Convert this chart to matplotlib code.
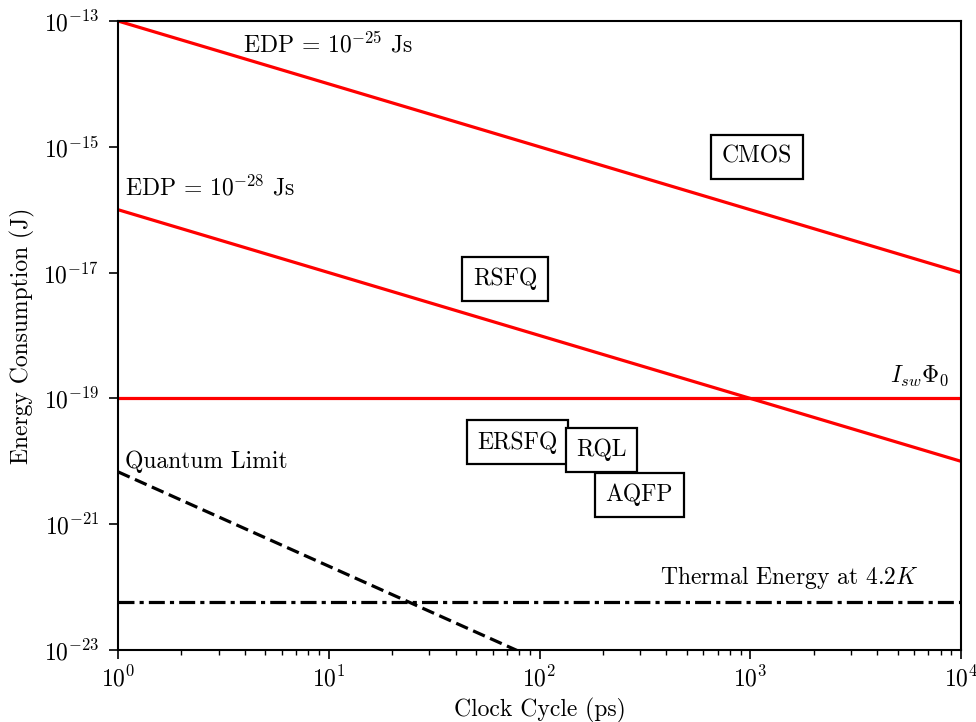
import matplotlib
matplotlib.use("Agg")
import matplotlib.pyplot as plt
from matplotlib.ticker import NullLocator, LogLocator

plt.rcParams.update({
    "font.family": "serif",
    "font.serif": ["cmr10"],
    "mathtext.fontset": "cm",
    "axes.formatter.use_mathtext": True,
    "axes.unicode_minus": False,
})

# Data
x_line = [1, 1e4]
edp25 = [1e-13, 1e-17]
edp28 = [1e-16, 1e-20]
isw_phi0 = [1e-19, 1e-19]
quantum_x = [1, 100]
quantum_y = [6.8e-21, 6.8e-24]
thermal = [5.8e-23, 5.8e-23]

tech_names = ["CMOS", "RSFQ", "ERSFQ", "RQL", "AQFP"]
tech_x = [1080, 68.6, 78.7, 197, 298]
tech_y = [6.9e-16, 7.9e-18, 2.0e-20, 1.5e-20, 2.9e-21]

fig = plt.figure(figsize=(9.76, 7.22), dpi=100)
ax = fig.add_axes([118/976, 72/722, (961-118)/976, (650-21)/722])

lw = 2.3
ax.plot(x_line, edp25, color="red", lw=lw)
ax.plot(x_line, edp28, color="red", lw=lw)
ax.plot(x_line, isw_phi0, color="red", lw=lw)
ax.plot(quantum_x, quantum_y, color="black", lw=lw, ls=(0, (4.0, 1.8)))
ax.plot(x_line, thermal, color="black", lw=lw, ls=(0, (5.0, 1.6, 1.3, 1.6)))

ax.set_xscale("log")
ax.set_yscale("log")
ax.set_xlim(1, 1e4)
ax.set_ylim(1e-23, 1e-13)
ax.set_yticks([1e-23, 1e-21, 1e-19, 1e-17, 1e-15, 1e-13])
ax.yaxis.set_minor_locator(NullLocator())
ax.xaxis.set_major_locator(LogLocator(base=10))
ax.xaxis.set_minor_locator(LogLocator(base=10, subs=range(2, 10)))

fs = 17
ax.tick_params(axis="both", which="major", labelsize=fs, length=6.5, width=1.2)
ax.tick_params(axis="y", which="major", pad=7)
ax.tick_params(axis="x", which="major", pad=5)
ax.tick_params(axis="both", which="minor", length=3.5, width=1)
for s in ax.spines.values():
    s.set_linewidth(1.5)

ax.set_xlabel("Clock Cycle (ps)", fontsize=fs, labelpad=5)
ax.set_ylabel("Energy Consumption (J)", fontsize=fs, labelpad=6)

ax.text(3.9, 3.2e-14, r"EDP = $10^{-25}$ Js", fontsize=fs, ha="left", va="baseline")
ax.text(1.08, 1.7e-16, r"EDP = $10^{-28}$ Js", fontsize=fs, ha="left", va="baseline")
ax.text(8800, 1.8e-19, r"$I_{sw}\Phi_0$", fontsize=fs, ha="right", va="baseline")
ax.text(1.08, 7.9e-21, "Quantum Limit", fontsize=fs, ha="left", va="baseline")
ax.text(6300, 1.12e-22, r"Thermal Energy at $4.2K$", fontsize=fs, ha="right", va="baseline")

for name, xv, yv in zip(tech_names, tech_x, tech_y):
    ax.text(xv, yv, name, fontsize=fs, ha="center", va="center",
            bbox=dict(boxstyle="square,pad=0.45", fc="white", ec="black", lw=1.6))

fig.savefig("out.png", dpi=100)
